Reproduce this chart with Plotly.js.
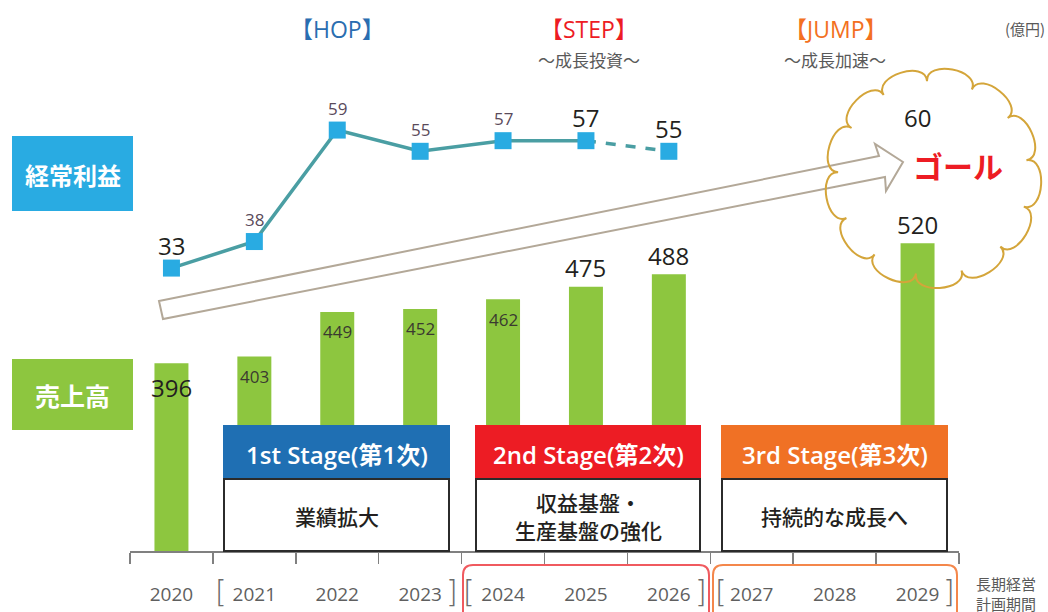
<!DOCTYPE html>
<html>
<head>
<meta charset="utf-8">
<script src="https://cdn.plot.ly/plotly-3.0.1.min.js"></script>
<style>html,body{margin:0;padding:0;background:#fff;}#chart{width:1048px;height:612px;}</style>
</head>
<body>
<div id="chart"></div>
<script>
// ---- data ----
const years = ['2020','2021','2022','2023','2024','2025','2026','2027','2028','2029'];
const sales = [396, 403, 449, 452, 462, 475, 488, null, null, 520];
const profit = [33, 38, 59, 55, 57, 57, 55, null, null, 60];
const salesLabelSize = [24, 17, 17, 17, 17, 24, 24, null, null, 24];
const profitLabelSize = [24, 17, 17, 17, 17, 24, 24, null, null, 24];
const stageHeads = ['1st Stage(第1次)', '2nd Stage(第2次)', '3rd Stage(第3次)'];
const stageBodies = [['業績拡大'], ['収益基盤・', '生産基盤の強化'], ['持続的な成長へ']];
const phaseTitles = ['【HOP】', '【STEP】', '【JUMP】'];
const phaseSubs = ['', '〜成長投資〜', '〜成長加速〜'];
const unitLabel = '(億円)';
const salesName = '売上高';
const profitName = '経常利益';
const goalText = 'ゴール';
const periodText = '長期経営<br>計画期間';

// ---- layout helpers ----
const W = 1048, H = 612;
const L = 130, R = 959, T = 60, B = 551;
const px = x => (x - L) / (R - L);
const py = y => (B - y) / (B - T);
const FONT = 'Open Sans, Noto Sans CJK JP, sans-serif';
const JFONT = 'Noto Sans CJK JP, sans-serif';

const solidIdx = [0,1,2,3,4,5];
const dashIdx = [5,6];

const traces = [
  {
    type: 'bar', x: years, y: sales, marker: {color: '#8dc63f'},
    hoverinfo: 'skip', yaxis: 'y'
  },
  {
    type: 'scatter', mode: 'lines', x: solidIdx.map(i => years[i]), y: solidIdx.map(i => profit[i]),
    line: {color: '#4a9ea3', width: 3.5}, yaxis: 'y2', hoverinfo: 'skip'
  },
  {
    type: 'scatter', mode: 'lines', x: dashIdx.map(i => years[i]), y: dashIdx.map(i => profit[i]),
    line: {color: '#4a9ea3', width: 3.5, dash: '10px,10px'}, yaxis: 'y2', hoverinfo: 'skip'
  },
  {
    type: 'scatter', mode: 'markers', x: years.slice(0,7), y: profit.slice(0,7),
    marker: {symbol: 'square', size: 17, color: '#29abe2'}, yaxis: 'y2', hoverinfo: 'skip'
  }
];

const ann = [];
// sales labels (x as category index)
sales.forEach((v, i) => {
  if (v === null) return;
  const inside = i <= 4;
  ann.push({
    x: i, y: v, xref: 'x', yref: 'y', showarrow: false,
    text: String(v), xanchor: 'center', yanchor: 'middle',
    yshift: inside ? (i === 0 ? -24 : -20) : 19,
    font: {family: FONT, size: salesLabelSize[i], color: i === 0 || !inside ? '#231f20' : '#3a3a30'}
  });
});
// profit labels
profit.forEach((v, i) => {
  if (v === null) return;
  const big = profitLabelSize[i] > 20;
  ann.push({
    x: i, y: v, xref: 'x', yref: 'y2', showarrow: false,
    text: String(v), xanchor: 'center', yanchor: 'middle',
    yshift: i === 9 ? 7 : (big ? 23 : 22),
    font: {family: FONT, size: profitLabelSize[i], color: big ? '#231f20' : '#5a4a5a'}
  });
});
// phase titles
const phaseX = [337, 589, 835];
const phaseColors = ['#2a6db0', '#ed1c24', '#f37021'];
phaseTitles.forEach((t, i) => {
  ann.push({x: px(phaseX[i]), y: py(29), xref: 'paper', yref: 'paper', showarrow: false,
    text: t, xanchor: 'center', yanchor: 'middle',
    font: {family: FONT, size: 23, color: phaseColors[i]}});
  if (phaseSubs[i]) ann.push({x: px(phaseX[i]), y: py(59), xref: 'paper', yref: 'paper', showarrow: false,
    text: phaseSubs[i], xanchor: 'center', yanchor: 'middle',
    font: {family: JFONT, size: 17, color: '#595959'}});
});
ann.push({x: px(1047), y: py(28), xref: 'paper', yref: 'paper', showarrow: false, text: unitLabel,
  xanchor: 'right', yanchor: 'middle', font: {family: JFONT, size: 15, color: '#595959'}});
// left boxes labels
ann.push({x: px(72.5), y: py(174), xref: 'paper', yref: 'paper', showarrow: false, text: '<b>' + profitName + '</b>',
  xanchor: 'center', yanchor: 'middle', font: {family: JFONT, size: 24, color: '#ffffff'}});
ann.push({x: px(72.5), y: py(395), xref: 'paper', yref: 'paper', showarrow: false, text: '<b>' + salesName + '</b>',
  xanchor: 'center', yanchor: 'middle', font: {family: JFONT, size: 25, color: '#ffffff'}});
// goal
ann.push({x: px(958), y: py(165), xref: 'paper', yref: 'paper', showarrow: false, text: '<b>' + goalText + '</b>',
  xanchor: 'center', yanchor: 'middle', font: {family: JFONT, size: 30, color: '#ed1c24'}});
// stage boxes
const stageX = [[223, 450], [475, 701], [721, 948]];
const stageColors = ['#1f6fb3', '#ed1c24', '#f07125'];
const shapes = [];
stageX.forEach((s, i) => {
  shapes.push({type: 'rect', xref: 'paper', yref: 'paper', x0: px(s[0]), x1: px(s[1]), y0: py(479), y1: py(425),
    fillcolor: stageColors[i], line: {width: 0}});
  shapes.push({type: 'rect', xref: 'paper', yref: 'paper', x0: px(s[0] + 1), x1: px(s[1] - 1), y0: py(551), y1: py(479),
    fillcolor: '#ffffff', line: {color: '#2b2b2b', width: 2}});
  ann.push({x: px((s[0] + s[1]) / 2), y: py(454), xref: 'paper', yref: 'paper', showarrow: false, text: stageHeads[i],
    xanchor: 'center', yanchor: 'middle', font: {family: FONT, size: 24, color: '#ffffff', weight: 600}});
  const lines = stageBodies[i];
  const ys = lines.length === 1 ? [516] : [502, 530];
  lines.forEach((ln, j) => ann.push({x: px((s[0] + s[1]) / 2), y: py(ys[j]), xref: 'paper', yref: 'paper', showarrow: false, text: ln,
    xanchor: 'center', yanchor: 'middle', font: {family: JFONT, size: 21, color: '#231f20', weight: 500}}));
});
// left boxes
shapes.push({type: 'rect', xref: 'paper', yref: 'paper', x0: px(12), x1: px(133), y0: py(211), y1: py(136),
  fillcolor: '#29abe2', line: {width: 0}, layer: 'below'});
shapes.push({type: 'rect', xref: 'paper', yref: 'paper', x0: px(12), x1: px(133), y0: py(430), y1: py(359),
  fillcolor: '#8dc63f', line: {width: 0}, layer: 'below'});
// brackets
const brackets = [[221, '['], [452, ']'], [469, '['], [701, ']'], [721, '['], [949, ']']];
brackets.forEach(b => ann.push({x: px(b[0]), y: py(592), xref: 'paper', yref: 'paper', showarrow: false, text: b[1],
  xanchor: 'center', yanchor: 'middle', font: {family: 'DejaVu Sans', size: 30, color: '#6b6b6b', weight: 300}}));
// period text
ann.push({x: px(974), y: py(571), xref: 'paper', yref: 'paper', showarrow: false, text: periodText,
  xanchor: 'left', yanchor: 'top', align: 'left', font: {family: JFONT, size: 15, color: '#595959'}});
// rounded rects
function rrect(x0, x1, y0, y1, r) {
  const p = (x, y) => px(x) + ',' + py(y);
  return 'M' + p(x0, y1) + ' L' + p(x0, y0 + r) + ' Q' + p(x0, y0) + ' ' + p(x0 + r, y0) +
    ' L' + p(x1 - r, y0) + ' Q' + p(x1, y0) + ' ' + p(x1, y0 + r) + ' L' + p(x1, y1);
}
shapes.push({type: 'path', xref: 'paper', yref: 'paper', path: rrect(463, 709, 565, 630, 10), line: {color: '#f05a5f', width: 2}});
shapes.push({type: 'path', xref: 'paper', yref: 'paper', path: rrect(713, 957, 565, 630, 10), line: {color: '#f4874b', width: 2}});
// arrow
const arrowPts = [[159, 301], [879, 156], [875, 144], [903, 162], [886, 191], [885, 177], [163, 319]];
shapes.push({type: 'path', xref: 'paper', yref: 'paper',
  path: 'M' + arrowPts.map(p => px(p[0]) + ',' + py(p[1])).join(' L') + ' Z',
  line: {color: '#b3a898', width: 2}, fillcolor: 'rgba(0,0,0,0)'});
// cloud
(function () {
  const cx = 933, cy = 178, rx = 95, ry = 97, n = 13, k = 22;
  let d = '';
  const pt = a => [cx + rx * Math.cos(a), cy + ry * Math.sin(a)];
  const nrm = a => { const nx = Math.cos(a) / rx, ny = Math.sin(a) / ry; const l = Math.hypot(nx, ny); return [nx / l, ny / l]; };
  const off = 0.3;
  for (let i = 0; i < n; i++) {
    const a0 = off + 2 * Math.PI * i / n, a1 = off + 2 * Math.PI * (i + 1) / n;
    const p0 = pt(a0), p1 = pt(a1), n0 = nrm(a0), n1 = nrm(a1);
    const c0 = [p0[0] + n0[0] * k, p0[1] + n0[1] * k], c1 = [p1[0] + n1[0] * k, p1[1] + n1[1] * k];
    if (i === 0) d += 'M' + px(p0[0]) + ',' + py(p0[1]);
    d += ' C' + px(c0[0]) + ',' + py(c0[1]) + ' ' + px(c1[0]) + ',' + py(c1[1]) + ' ' + px(p1[0]) + ',' + py(p1[1]);
  }
  d += ' Z';
  shapes.push({type: 'path', xref: 'paper', yref: 'paper', path: d, line: {color: '#d4a53a', width: 2}, fillcolor: 'rgba(0,0,0,0)'});
})();

const layout = {
  width: W, height: H,
  margin: {l: L, r: W - R, t: T, b: H - B, pad: 0},
  paper_bgcolor: '#ffffff', plot_bgcolor: 'rgba(0,0,0,0)',
  showlegend: false,
  bargap: 0.59,
  xaxis: {
    type: 'category', range: [-0.5, 9.5], fixedrange: true,
    showline: true, linecolor: '#808080', linewidth: 2,
    ticks: 'outside', tickson: 'boundaries', ticklen: 11, tickcolor: '#808080', tickwidth: 1.5,
    showgrid: false, zeroline: false,
    tickfont: {family: FONT, size: 19, color: '#5f5f5f'},
    ticklabelstandoff: 25
  },
  yaxis: {range: [202, 709.2], visible: false, showgrid: false, zeroline: false, fixedrange: true},
  yaxis2: {range: [-20.3, 72.2], overlaying: 'y', visible: false, showgrid: false, zeroline: false, fixedrange: true},
  annotations: ann,
  shapes: shapes
};

Plotly.newPlot('chart', traces, layout, {displayModeBar: false, staticPlot: true});
</script>
</body>
</html>
